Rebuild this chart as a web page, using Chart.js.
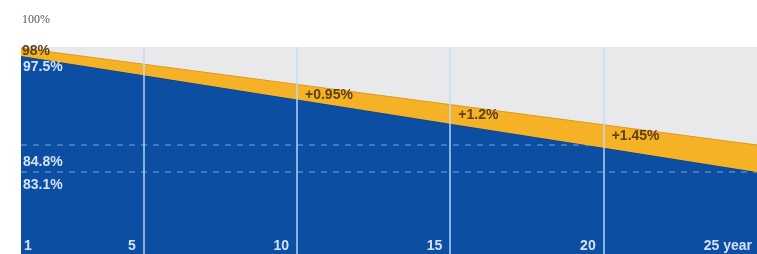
<!DOCTYPE html>
<html>
<head>
<meta charset="utf-8">
<script src="https://cdn.jsdelivr.net/npm/chart.js@4/dist/chart.umd.min.js"></script>
<style>
  body { margin: 0; background: #fff; }
  #wrap { width: 757px; height: 254px; }
</style>
</head>
<body>
<div id="wrap"><canvas id="warrantyChart" width="757" height="254"></canvas></div>
<script>
// Data
const years = [1, 5, 10, 15, 20, 25];
const standardValues = [97.5, 95.1, 92.1, 89.1, 86.1, 83.1];
const premiumValues = [98, 95.8, 93.05, 90.3, 87.55, 84.8];
const gapLabels = ['', '', '+0.95%', '+1.2%', '+1.45%', ''];
const tickLabels = ['1', '5', '10', '15', '20', '25 year'];
const endStandard = 83.1;
const endPremium = 84.8;

const blue = '#0c4ea2';
const orange = '#f5b226';
const grey = '#e9e9ec';
const lightText = '#d3e2f5';
const darkText = '#5e4212';

const toPoints = (vals) => vals.map((v, i) => ({ x: years[i], y: v }));
const flat = (v) => years.map(x => ({ x, y: v }));

// grey plot background + white page
const backgroundPlugin = {
  id: 'background',
  beforeDraw(chart) {
    const { ctx, chartArea } = chart;
    ctx.save();
    ctx.fillStyle = '#fff';
    ctx.fillRect(0, 0, chart.width, chart.height);
    ctx.fillStyle = grey;
    ctx.fillRect(chartArea.left, chartArea.top, chartArea.right - chartArea.left, chartArea.bottom - chartArea.top);
    ctx.restore();
  }
};

// text labels drawn from the scales
const labelsPlugin = {
  id: 'labels',
  afterDraw(chart) {
    const { ctx, chartArea, scales } = chart;
    const x = scales.x, y = scales.y, y2 = scales.y2;
    ctx.save();

    // top "100%" note
    ctx.font = '12px "Liberation Serif", serif';
    ctx.fillStyle = '#555';
    ctx.textAlign = 'left';
    ctx.textBaseline = 'top';
    ctx.fillText('100%', chartArea.left + 1, 14);

    ctx.font = 'bold 14px "Liberation Sans", Arial, sans-serif';

    // start values
    ctx.fillStyle = darkText;
    ctx.textBaseline = 'middle';
    ctx.fillText(premiumValues[0] + '%', chartArea.left + 1, y2.getPixelForValue(premiumValues[0]) + 3);
    ctx.fillStyle = lightText;
    ctx.textBaseline = 'top';
    ctx.fillText(standardValues[0] + '%', chartArea.left + 2, y.getPixelForValue(standardValues[0]) + 4);

    // end values near dashed lines
    ctx.fillText(endPremium + '%', chartArea.left + 2, y2.getPixelForValue(endPremium) + 10);
    ctx.fillText(endStandard + '%', chartArea.left + 2, y.getPixelForValue(endStandard) + 6);

    // gap labels
    ctx.fillStyle = darkText;
    gapLabels.forEach((t, i) => {
      if (!t) return;
      ctx.fillText(t, x.getPixelForValue(years[i]) + 8, y2.getPixelForValue(premiumValues[i]) + 4);
    });

    // year ticks inside plot
    ctx.fillStyle = lightText;
    ctx.textBaseline = 'bottom';
    tickLabels.forEach((t, i) => {
      const px = x.getPixelForValue(years[i]);
      if (i === 0) {
        ctx.textAlign = 'left';
        ctx.fillText(t, px + 3, chartArea.bottom - 1);
      } else if (i === tickLabels.length - 1) {
        ctx.textAlign = 'right';
        ctx.fillText(t, px - 5, chartArea.bottom - 1);
      } else {
        ctx.textAlign = 'right';
        ctx.fillText(t, px - 8, chartArea.bottom - 1);
      }
    });
    ctx.restore();
  }
};

new Chart(document.getElementById('warrantyChart'), {
  type: 'line',
  data: {
    datasets: [
      {
        label: 'Standard',
        data: toPoints(standardValues),
        yAxisID: 'y',
        borderColor: '#0a3c80',
        borderWidth: 1,
        backgroundColor: blue,
        fill: 'start',
        pointRadius: 0,
        order: 2
      },
      {
        label: 'Premium',
        data: toPoints(premiumValues),
        yAxisID: 'y2',
        borderColor: '#e09a18',
        borderWidth: 1,
        backgroundColor: orange,
        fill: 0,
        pointRadius: 0,
        order: 0
      },
      {
        label: 'Premium end',
        data: flat(endPremium),
        yAxisID: 'y2',
        borderColor: 'rgba(150,190,235,0.8)',
        borderWidth: 1,
        borderDash: [6, 6],
        fill: false,
        pointRadius: 0,
        order: 1
      },
      {
        label: 'Standard end',
        data: flat(endStandard),
        yAxisID: 'y',
        borderColor: 'rgba(150,190,235,0.8)',
        borderWidth: 1,
        borderDash: [6, 6],
        fill: false,
        pointRadius: 0,
        order: 1
      }
    ]
  },
  options: {
    responsive: false,
    animation: false,
    layout: { padding: { left: 21, top: 47, right: 0, bottom: 0 } },
    plugins: {
      legend: { display: false },
      tooltip: { enabled: false }
    },
    scales: {
      x: {
        type: 'linear',
        min: 1,
        max: 25,
        afterBuildTicks: (scale) => { scale.ticks = years.map(v => ({ value: v })); },
        ticks: { display: false },
        border: { display: false },
        grid: {
          z: 1,
          drawTicks: false,
          lineWidth: 2,
          color: (c) => (c.tick && (c.tick.value === 1 || c.tick.value === 25)) ? 'rgba(0,0,0,0)' : 'rgba(190,220,250,0.7)'
        }
      },
      y: { display: false, min: 72.92, max: 98.62 },
      y2: { display: false, min: 69.97, max: 98.14 }
    }
  },
  plugins: [backgroundPlugin, labelsPlugin]
});
</script>
</body>
</html>
